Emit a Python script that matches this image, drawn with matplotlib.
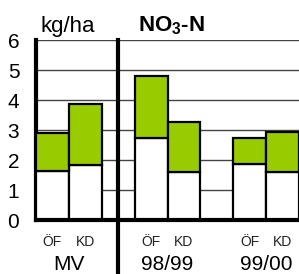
import matplotlib.pyplot as plt
import numpy as np

plt.rcParams['font.family'] = ['Liberation Sans', 'DejaVu Sans']
plt.rcParams['mathtext.fontset'] = 'custom'
plt.rcParams['mathtext.rm'] = 'Liberation Sans'
plt.rcParams['mathtext.bf'] = 'Liberation Sans:bold'

groups = ['MV', '98/99', '99/00']
sub_labels = ['ÖF', 'KD']
positions = [0, 1, 3, 4, 6, 7]
base = [1.63, 1.82, 2.72, 1.60, 1.88, 1.60]
total = [2.89, 3.86, 4.80, 3.26, 2.72, 2.93]
green = '#99CC00'

top_part = np.array(total) - np.array(base)

fig = plt.figure(figsize=(2.99, 2.74), dpi=100)
ax = fig.add_axes([36 / 299, 1 - 220 / 274, 1 - 36 / 299, 180 / 274])

for y in range(1, 7):
    ax.axhline(y, color='#444444', linewidth=1.0, zorder=0)

ax.bar(positions, base, width=1.0, color='white', edgecolor='black', linewidth=1.6, zorder=3)
ax.bar(positions, top_part, bottom=base, width=1.0, color=green, edgecolor='black', linewidth=1.6, zorder=3)

ax.set_xlim(-0.5, 7.5)
ax.set_ylim(0, 6)
ax.set_yticks(range(7))
ax.tick_params(axis='y', length=0, pad=12, labelsize=15)
ax.tick_params(axis='x', length=0, pad=11, labelsize=10, labelcolor='#222222')
ax.set_xticks(positions)
ax.set_xticklabels(sub_labels * 3)

for side in ['top', 'right']:
    ax.spines[side].set_visible(False)
ax.spines['left'].set_linewidth(3)
ax.spines['bottom'].set_linewidth(3)
ax.spines['bottom'].set_zorder(4)

# divider between MV and the years
ax.plot([2, 2], [6, -2], color='black', linewidth=3, clip_on=False, zorder=5)

for x, g in zip([0.5, 3.5, 6.5], groups):
    ax.text(x, -1.68, g, ha='center', va='baseline', fontsize=15)

fig.text(40 / 299, 1 - 32 / 274, 'kg/ha', fontsize=16, ha='left', va='baseline')
fig.text(138 / 299, 1 - 31 / 274, r'$\mathbf{NO_3}$' + '-N', fontsize=16, fontweight='bold',
         ha='left', va='baseline')

fig.savefig('out.png', dpi=100)
